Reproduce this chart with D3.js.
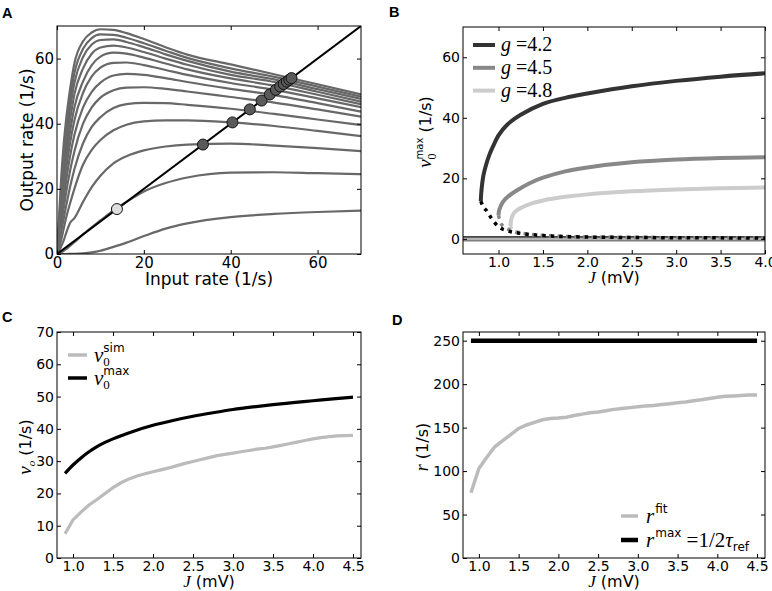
<!DOCTYPE html>
<html><head><meta charset="utf-8">
<script src="https://cdn.jsdelivr.net/npm/d3@7"></script>
<style>body{margin:0;background:#fff} text{white-space:pre}</style>
</head><body>
<script>
// ---------------- DATA ----------------
// Panel A: transfer curves (input rate -> output rate)
const aX = [0,0.5,1,1.5,2,3,4,6,8,10,13,16,20,25,30,40,50,60,70];
const aCurves = [
 [0,12,24,33,40,50.5,58.5,65.3,68,69,68.8,67.8,66,63.5,61.2,58.2,55.2,52.1,49],
 [0,10,21,30,37,47.5,55.5,63,66.3,67.4,67.3,66.4,64.7,62.4,60.2,57,54.4,51.4,48.3],
 [0,9,19,27,34,44.5,52.5,60.5,64.3,65.7,65.9,65.1,63.5,61.3,59.3,56,53.6,50.6,47.6],
 [0,8,17,24.5,31,41,49,57,61.5,63.4,64,63.4,62,60,58.1,55,52.8,49.8,46.8],
 [0,7,15,22,28,37.5,45,53,58,60.6,61.8,61.5,60.3,58.5,56.7,53.9,51.7,48.9,46],
 [0,6,13,19,25,34,41,49.5,54.5,57.2,58.7,58.8,58,56.5,55,52.5,50.4,47.8,45.1],
 [0,5,11,16.5,21.5,30,36.5,45,49.8,52.6,54.8,55.3,55,54,52.8,50.7,48.8,46.3,43.7],
 [0,4,9,13.5,18,25.5,31.5,40,45,48,50.3,51.1,51.2,50.7,49.9,48.2,46.5,44.4,42.2],
 [0,3,7,10.5,14,20.5,26,34,39,42,44.8,46,46.4,46.3,45.8,44.6,43,41.3,39.6],
 [0,2,4.5,7.5,10.5,15.5,20,27.5,32,35,38,39.7,40.7,41,41,40.4,39.3,37.8,36.2],
 [0,1,2.5,4,6,9.5,11,16,20.5,24,27.8,30,31.8,33,33.6,33.9,33.3,32.5,31.6],
 [0,0.2,0.5,0.9,1.4,2.5,3.6,6,8.2,10.3,13.4,16,19.2,21.8,23.5,25,25.1,24.8,24.5],
 [0,0,0,0,0,0.02,0.05,0.2,0.5,1.0,2.2,3.5,5.5,7.8,9.4,11.3,12.3,12.9,13.3]
];
const aFixedLight = [13.8];
const aFixedDark = [33.6,40.4,44.4,47.1,49.0,50.4,51.4,52.2,52.9,53.5,54.0];
const aTicks = [0,20,40,60];

// Panel B: bifurcation branches nu0max vs J
const bLabels = ["4.2","4.5","4.8"];
const bUpperJ = [
 [0.80,0.805,0.815,0.83,0.86,0.9,0.95,1.0,1.1,1.25,1.5,1.75,2.0,2.5,3.0,3.5,4.0],
 [1.0,1.005,1.02,1.05,1.1,1.2,1.35,1.5,1.75,2.0,2.5,3.0,3.5,4.0],
 [1.135,1.14,1.155,1.18,1.25,1.35,1.5,1.75,2.0,2.5,3.0,3.5,4.0]
];
const bUpperV = [
 [12.5,15,18,21,24.5,28,31.3,34.2,37.8,41,44.6,46.6,48.0,50.4,52.2,53.6,54.7],
 [7.8,9.2,10.5,12.2,13.8,15.9,18.4,20.2,22.3,23.6,25.3,26.2,26.7,27.0],
 [4.2,6,7.5,8.8,10.2,11.5,12.7,13.9,14.7,15.7,16.3,16.7,17.0]
];
const bLowerJ = [
 [0.80,0.83,0.87,0.92,1.0,1.1,1.25,1.45,1.7,2.0,2.5,3.0,3.5,4.0],
 [1.0,1.01,1.03,1.07,1.12,1.2,1.35,1.6,2.0,2.5,3.0,4.0],
 [1.135,1.15,1.2,1.3,1.45,1.7,2.0,3.0,4.0]
];
const bLowerV = [
 [12.5,10.5,9.2,6.8,4.0,2.7,1.8,1.2,0.8,0.6,0.45,0.38,0.33,0.3],
 [7.8,6.5,5.0,3.8,3.0,2.2,1.5,1.0,0.6,0.45,0.38,0.3],
 [4.2,3.2,2.5,1.7,1.2,0.85,0.6,0.38,0.3]
];
const bXTicks = [1.0,1.5,2.0,2.5,3.0,3.5,4.0];
const bYTicks = [0,20,40,60];

// Panel C
const cJsim = [0.9,1.0,1.1,1.2,1.3,1.4,1.5,1.6,1.7,1.8,1.9,2.0,2.1,2.2,2.3,2.4,2.5,2.6,2.7,2.8,2.9,3.0,3.1,3.2,3.3,3.4,3.5,3.6,3.7,3.8,3.9,4.0,4.1,4.2,4.3,4.4,4.5];
const cSim = [7.5,11.8,14.2,16.4,18.1,20.0,21.8,23.3,24.5,25.4,26.1,26.7,27.3,27.9,28.6,29.3,29.9,30.5,31.1,31.7,32.1,32.5,32.9,33.3,33.7,34.0,34.4,34.9,35.4,35.9,36.4,36.9,37.3,37.6,37.8,37.9,38.0];
const cJmax = [0.9,1.0,1.1,1.2,1.3,1.4,1.5,1.75,2.0,2.25,2.5,2.75,3.0,3.25,3.5,3.75,4.0,4.25,4.5];
const cMax = [26.2,28.8,31,32.9,34.5,35.8,36.9,39.2,41.1,42.6,43.9,45,46,46.8,47.5,48.1,48.7,49.3,49.8];
const cXTicks = [1.0,1.5,2.0,2.5,3.0,3.5,4.0,4.5];
const cYTicks = [0,10,20,30,40,50,60,70];

// Panel D
const dJ = cJsim;
const dFit = [75,103,116,128,135,142,149,153,156,159,160.5,161,162,164,165.5,167,168,169.5,171,172,173,174,175,175.5,176.5,177.5,178.5,179.5,181,182,183.5,185,186,186.5,187,187.5,187.5];
const dMaxJ = [0.9,4.5];
const dMax = [250,250];
const dYTicks = [0,50,100,150,200,250];

// ---------------- DRAW ----------------
const svg = d3.select("body").append("svg").attr("width",772).attr("height",591)
  .style("background","#fff");
const SANS = "DejaVu Sans", SERIF = "Liberation Serif";

function rich(parent, x, y, parts, anchor, rot){
  const outer = parent.append("g").attr("transform",`translate(${x},${y}) rotate(${rot||0})`);
  const inner = outer.append("g");
  let cx=0, lastStart=0;
  parts.forEach(p=>{
    const sx = p.stack ? lastStart : cx;
    const t = inner.append("text").attr("xml:space","preserve").attr("x",sx+(p.dx||0)).attr("y",p.dy||0).text(p.t)
      .attr("font-family",p.f||SANS).attr("font-size",p.s)
      .attr("font-style",p.i?"italic":"normal").attr("fill","#000");
    const w = t.node().getComputedTextLength()+(p.dx||0);
    if(p.stack) cx=Math.max(cx,sx+w); else {lastStart=sx; cx=sx+w;}
  });
  if(anchor==="middle") inner.attr("transform",`translate(${-cx/2},0)`);
  return outer;
}

function frame(x,y,xt,yt,xf,yf,fs){
  const g = svg.append("g");
  const [x0,x1]=x.range(), [y0,y1]=y.range();
  const st = sel=>{sel.select(".domain").remove(); sel.selectAll("text").attr("font-family",SANS).attr("font-size",fs).attr("fill","#000"); sel.selectAll("line").attr("stroke","#000");};
  g.append("g").attr("transform",`translate(0,${y0})`).call(d3.axisBottom(x).tickValues(xt).tickFormat(xf).tickSizeInner(-4).tickSizeOuter(0).tickPadding(3)).call(st);
  g.append("g").attr("transform",`translate(0,${y1})`).call(d3.axisTop(x).tickValues(xt).tickFormat(()=>"").tickSizeInner(-4).tickSizeOuter(0)).call(st);
  g.append("g").attr("transform",`translate(${x0},0)`).call(d3.axisLeft(y).tickValues(yt).tickFormat(yf).tickSizeInner(-4).tickSizeOuter(0).tickPadding(3)).call(st);
  g.append("g").attr("transform",`translate(${x1},0)`).call(d3.axisRight(y).tickValues(yt).tickFormat(()=>"").tickSizeInner(-4).tickSizeOuter(0)).call(st);
  g.append("rect").attr("x",x0).attr("y",y1).attr("width",x1-x0).attr("height",y0-y1)
   .attr("fill","none").attr("stroke","#000").attr("stroke-width",1);
  return g;
}
function clip(id,x,y){
  svg.append("clipPath").attr("id",id).append("rect")
   .attr("x",x.range()[0]).attr("y",y.range()[1])
   .attr("width",x.range()[1]-x.range()[0]).attr("height",y.range()[0]-y.range()[1]);
}
const f0 = d3.format("d"), f1 = d3.format(".1f");

// ---- Panel A ----
{
  const x = d3.scaleLinear().domain([0,70]).range([57,361]);
  const y = d3.scaleLinear().domain([0,70]).range([254,26]);
  clip("cA",x,y);
  const pg = svg.append("g").attr("clip-path","url(#cA)");
  const line = d3.line().x((d,i)=>x(aX[i])).y(d=>y(d)).curve(d3.curveMonotoneX);
  aCurves.forEach(c=>pg.append("path").attr("d",line(c)).attr("fill","none")
     .attr("stroke","#686868").attr("stroke-width",2.2));
  pg.append("path").attr("d",d3.line().x(d=>x(d)).y(d=>y(d))([0,70]))
    .attr("stroke","#000").attr("stroke-width",2);
  aFixedDark.forEach(v=>pg.append("circle").attr("cx",x(v)).attr("cy",y(v)).attr("r",5.5)
    .attr("fill","#5a5a5a").attr("stroke","#111").attr("stroke-width",1));
  aFixedLight.forEach(v=>pg.append("circle").attr("cx",x(v)).attr("cy",y(v)).attr("r",5.5)
    .attr("fill","#dedede").attr("stroke","#111").attr("stroke-width",1));
  frame(x,y,aTicks,aTicks,f0,f0,15);
  rich(svg,209,285,[{t:"Input rate (1/s)",s:17}],"middle");
  rich(svg,33,140,[{t:"Output rate (1/s)",s:17}],"middle",-90);
  svg.append("text").attr("x",2).attr("y",18).text("A").attr("font-family","Liberation Sans")
    .attr("font-weight","bold").attr("font-size",14.5);
}

// ---- Panel B ----
{
  const x = d3.scaleLinear().domain([0.6,4.0]).range([463,765]);
  const y = d3.scaleLinear().domain([-5,70]).range([254,27]);
  clip("cB",x,y);
  const pg = svg.append("g").attr("clip-path","url(#cB)");
  const cols = ["#333333","#888888","#cccccc"];
  // zero branch
  pg.append("line").attr("x1",x(0.6)).attr("x2",x(4.0)).attr("y1",y(0)).attr("y2",y(0))
    .attr("stroke","#b4b4b4").attr("stroke-width",4);
  pg.append("line").attr("x1",x(0.6)).attr("x2",x(4.0)).attr("y1",y(0)-2).attr("y2",y(0)-2)
    .attr("stroke","#111").attr("stroke-width",1.3);
  pg.append("line").attr("x1",x(0.6)).attr("x2",x(4.0)).attr("y1",y(0)+2).attr("y2",y(0)+2)
    .attr("stroke","#555").attr("stroke-width",1);
  for(let k=2;k>=0;k--){
    pg.append("path").attr("d",d3.line().x((d,i)=>x(bLowerJ[k][i])).y(d=>y(d)).curve(d3.curveMonotoneX)(bLowerV[k]))
      .attr("fill","none").attr("stroke",k===0?"#000":cols[k]).attr("stroke-width",3.5)
      .attr("stroke-dasharray","3.5,5");
  }
  for(let k=2;k>=0;k--){
    pg.append("path").attr("d",d3.line().x((d,i)=>x(bUpperJ[k][i])).y(d=>y(d)).curve(d3.curveCatmullRom)(bUpperV[k]))
      .attr("fill","none").attr("stroke",cols[k]).attr("stroke-width",4);
  }
  frame(x,y,bXTicks,bYTicks,f1,f0,14);
  bLabels.forEach((lab,k)=>{
    const yy = 45 + k*22.8;
    svg.append("line").attr("x1",473).attr("x2",495).attr("y1",yy).attr("y2",yy)
      .attr("stroke",cols[k]).attr("stroke-width",4);
    rich(svg,501,yy+6,[{t:"g",f:SERIF,i:true,s:20},{t:" =",f:SERIF,s:20},{t:lab,f:SERIF,s:20}],"start");
  });
  rich(svg,614,283,[{t:"J",f:SERIF,i:true,s:17},{t:" (mV)",s:16}],"middle");
  rich(svg,431,132,[{t:"ν",f:SERIF,i:true,s:19},{t:"max",s:10,dy:-8},{t:"0",f:SERIF,s:12,dy:5,stack:true},{t:" (1/s)",s:16}],"middle",-90);
  svg.append("text").attr("x",389).attr("y",17).text("B").attr("font-family","Liberation Sans")
    .attr("font-weight","bold").attr("font-size",14.5);
}

// ---- Panel C ----
{
  const x = d3.scaleLinear().domain([0.8,4.6]).range([57,361]);
  const y = d3.scaleLinear().domain([0,70]).range([558,332]);
  const ln = (J,V)=>d3.line().x((d,i)=>x(J[i])).y(d=>y(d))(V);
  svg.append("path").attr("d",ln(cJsim,cSim)).attr("fill","none").attr("stroke","#bbbbbb").attr("stroke-width",3.2);
  svg.append("path").attr("d",d3.line().x((d,i)=>x(cJmax[i])).y(d=>y(d)).curve(d3.curveMonotoneX)(cMax))
    .attr("fill","none").attr("stroke","#000").attr("stroke-width",3.2);
  frame(x,y,cXTicks,cYTicks,f1,f0,14);
  svg.append("line").attr("x1",68).attr("x2",87).attr("y1",355).attr("y2",355).attr("stroke","#bbbbbb").attr("stroke-width",3.5);
  svg.append("line").attr("x1",68).attr("x2",87).attr("y1",378).attr("y2",378).attr("stroke","#000").attr("stroke-width",3.5);
  rich(svg,94,362,[{t:"ν",f:SERIF,i:true,s:21},{t:"sim",s:12,dy:-10},{t:"0",f:SERIF,s:13,dy:4,stack:true}],"start");
  rich(svg,94,385,[{t:"ν",f:SERIF,i:true,s:21},{t:"max",s:12,dy:-10},{t:"0",f:SERIF,s:13,dy:4,stack:true}],"start");
  rich(svg,209,587,[{t:"J",f:SERIF,i:true,s:17},{t:" (mV)",s:16}],"middle");
  rich(svg,31,447,[{t:"ν",f:SERIF,i:true,s:19},{t:"o",f:SERIF,i:true,s:11,dy:4},{t:" (1/s)",s:16}],"middle",-90);
  svg.append("text").attr("x",2).attr("y",322).text("C").attr("font-family","Liberation Sans")
    .attr("font-weight","bold").attr("font-size",14.5);
}

// ---- Panel D ----
{
  const x = d3.scaleLinear().domain([0.8,4.6]).range([463,765]);
  const y = d3.scaleLinear().domain([0,260]).range([558,332]);
  const ln = (J,V)=>d3.line().x((d,i)=>x(J[i])).y(d=>y(d))(V);
  svg.append("path").attr("d",ln(dJ,dFit)).attr("fill","none").attr("stroke","#bbbbbb").attr("stroke-width",3.5);
  svg.append("path").attr("d",ln(dMaxJ,dMax)).attr("fill","none").attr("stroke","#000").attr("stroke-width",4.5);
  frame(x,y,cXTicks,dYTicks,f1,f0,14);
  svg.append("line").attr("x1",621).attr("x2",638).attr("y1",516).attr("y2",516).attr("stroke","#bbbbbb").attr("stroke-width",3.5);
  svg.append("line").attr("x1",621).attr("x2",638).attr("y1",540).attr("y2",540).attr("stroke","#000").attr("stroke-width",4.5);
  rich(svg,646,523,[{t:"r",f:SERIF,i:true,s:21},{t:"fit",s:12,dy:-10,dx:1}],"start");
  rich(svg,646,547,[{t:"r",f:SERIF,i:true,s:21},{t:"max",s:12,dy:-10,dx:1},{t:" =1/2",f:SERIF,s:21},{t:"τ",f:SERIF,i:true,s:21},{t:"ref",s:12,dy:4}],"start");
  rich(svg,614,587,[{t:"J",f:SERIF,i:true,s:17},{t:" (mV)",s:16}],"middle");
  rich(svg,428,447,[{t:"r",f:SERIF,i:true,s:18},{t:" (1/s)",s:16}],"middle",-90);
  svg.append("text").attr("x",392).attr("y",325).text("D").attr("font-family","Liberation Sans")
    .attr("font-weight","bold").attr("font-size",14.5);
}
</script>
</body></html>
